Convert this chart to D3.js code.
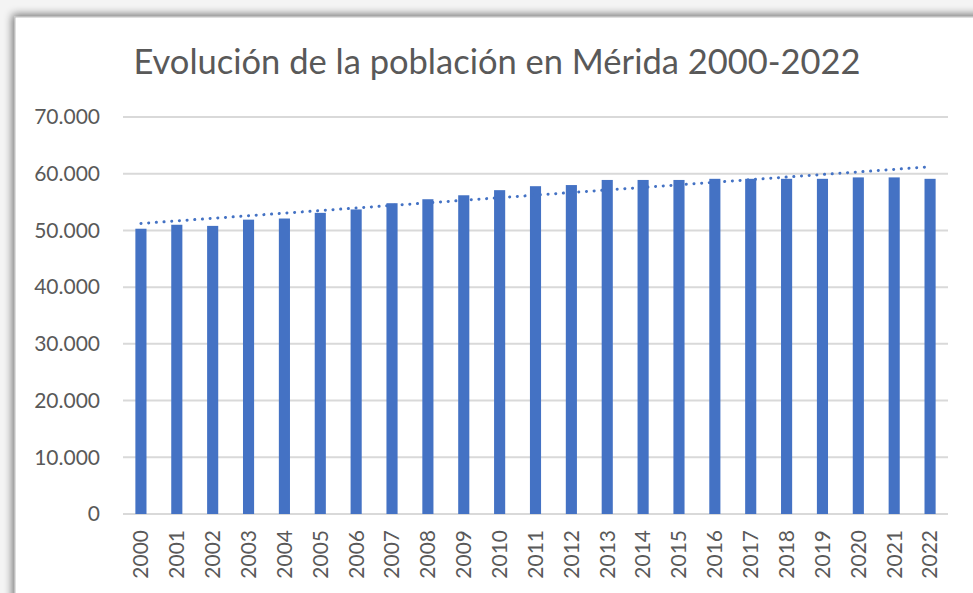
<!DOCTYPE html>
<html>
<head>
<meta charset="utf-8">
<script src="https://cdn.jsdelivr.net/npm/d3@7"></script>
<style>
  html, body { margin: 0; padding: 0; background: #fff; }
  svg { display: block; }
</style>
</head>
<body>
<svg width="973" height="593"></svg>
<script>
const years = d3.range(2000, 2023).map(String)
const population = [
  50300, 51000, 50800, 51900, 52100, 53100, 53700, 54800, 55500, 56200,
  57100, 57800, 58000, 58900, 58900, 58900, 59100, 59100, 59100, 59100,
  59350, 59350, 59100
]
const yTicks = [0, 10000, 20000, 30000, 40000, 50000, 60000, 70000]
const title = 'Evolución de la población en Mérida 2000-2022'

const W = 973, H = 593
const svg = d3.select('svg')
const font = 'Lato, "Open Sans", sans-serif'
const grey = '#595959'
const blue = '#4472C4'

// frame with soft shadow like the office export
const defs = svg.append('defs')
const shadow = defs.append('filter').attr('id', 'shadow')
  .attr('x', '-5%').attr('y', '-5%').attr('width', '110%').attr('height', '110%')
shadow.append('feGaussianBlur').attr('in', 'SourceAlpha').attr('stdDeviation', 4)
shadow.append('feOffset').attr('dx', -2).attr('dy', -2).attr('result', 'b')
shadow.append('feComponentTransfer').append('feFuncA').attr('type', 'linear').attr('slope', 0.55)
const m = shadow.append('feMerge')
m.append('feMergeNode')
m.append('feMergeNode').attr('in', 'SourceGraphic')

svg.append('rect').attr('width', W).attr('height', H).attr('fill', '#f4f4f4')
svg.append('rect')
  .attr('x', 15).attr('y', 17).attr('width', W + 20).attr('height', H + 20)
  .attr('fill', '#fff').attr('stroke', '#bfbfbf').attr('stroke-width', 1)
  .attr('filter', 'url(#shadow)')

const margin = { left: 123, right: W - 948, top: 117, bottom: H - 514 }

const x = d3.scaleBand()
  .domain(years)
  .range([margin.left, W - margin.right])
  .paddingInner(0.69)
  .paddingOuter(0.345)

const y = d3.scaleLinear()
  .domain([0, 70000])
  .range([H - margin.bottom, margin.top])

// gridlines
svg.append('g')
  .selectAll('line')
  .data(yTicks)
  .join('line')
  .attr('x1', margin.left).attr('x2', W - margin.right)
  .attr('y1', d => y(d)).attr('y2', d => y(d))
  .attr('stroke', '#d9d9d9').attr('stroke-width', 2)

// y axis labels
const fmt = d3.formatLocale({ decimal: ',', thousands: '.', grouping: [3], currency: ['', ''] }).format(',')
svg.append('g')
  .selectAll('text')
  .data(yTicks)
  .join('text')
  .attr('x', 100).attr('y', d => y(d))
  .attr('dy', '0.35em')
  .attr('text-anchor', 'end')
  .attr('font-family', font).attr('font-size', 21).attr('fill', grey)
  .text(d => fmt(d))

// bars
svg.append('g')
  .selectAll('rect')
  .data(population)
  .join('rect')
  .attr('x', (d, i) => x(years[i]))
  .attr('width', x.bandwidth())
  .attr('y', d => y(d))
  .attr('height', d => y(0) - y(d))
  .attr('fill', blue)

// x axis labels
svg.append('g')
  .selectAll('text')
  .data(years)
  .join('text')
  .attr('transform', d => `translate(${x(d) + x.bandwidth() / 2},530) rotate(-90)`)
  .attr('dy', '0.35em')
  .attr('text-anchor', 'end')
  .attr('font-family', font).attr('font-size', 21).attr('fill', grey)
  .text(d => d)

// linear trendline (least squares over category index)
const n = population.length
const idx = d3.range(n)
const mx = d3.mean(idx), my = d3.mean(population)
const slope = d3.sum(idx, i => (i - mx) * (population[i] - my)) / d3.sum(idx, i => (i - mx) ** 2)
const icpt = my - slope * mx
svg.append('path')
  .datum(idx)
  .attr('d', d3.line()
    .x(i => x(years[i]) + x.bandwidth() / 2)
    .y(i => y(icpt + slope * i)))
  .attr('fill', 'none')
  .attr('stroke', blue).attr('stroke-width', 3)
  .attr('stroke-linecap', 'round')
  .attr('stroke-dasharray', '0.1 7.6')

// title
svg.append('text')
  .attr('x', 497).attr('y', 74)
  .attr('text-anchor', 'middle')
  .attr('font-family', font).attr('font-size', 34.5).attr('fill', grey)
  .text(title)
</script>
</body>
</html>
